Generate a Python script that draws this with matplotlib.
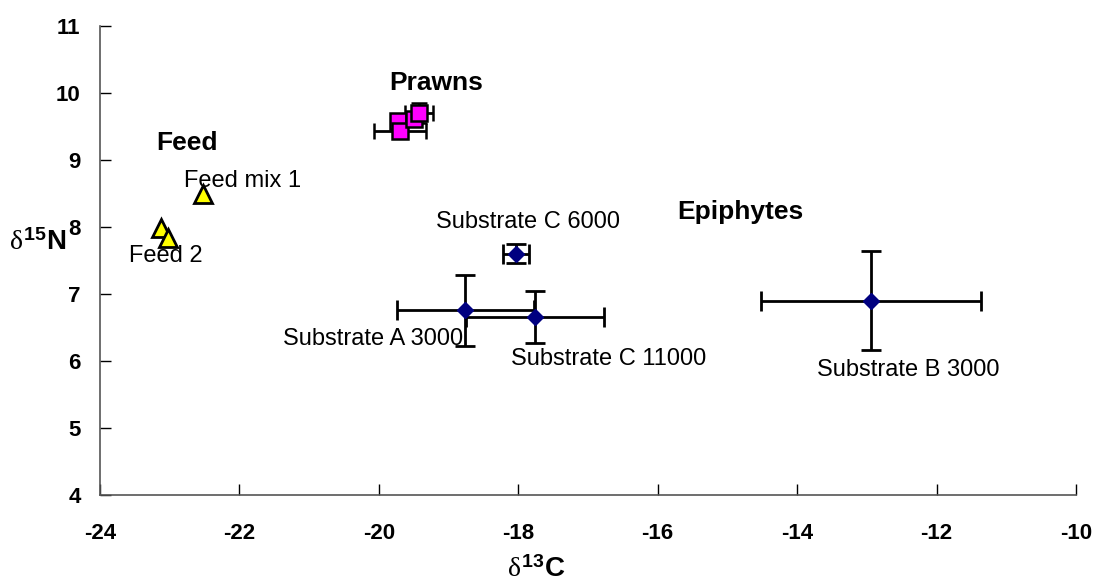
import matplotlib
matplotlib.use('Agg')
import matplotlib.pyplot as plt

plt.rcParams['font.family'] = ['Liberation Sans', 'DejaVu Sans']
plt.rcParams['axes.unicode_minus'] = False
plt.rcParams['mathtext.fontset'] = 'custom'
plt.rcParams['mathtext.rm'] = 'Liberation Serif'
plt.rcParams['mathtext.it'] = 'Liberation Serif'
plt.rcParams['mathtext.bf'] = 'Liberation Sans:bold'

# epiphytes (substrates)
sub_names = ['Substrate A 3000', 'Substrate C 11000', 'Substrate C 6000', 'Substrate B 3000']
sub_x = [-18.76, -17.76, -18.03, -12.94]
sub_y = [6.76, 6.66, 7.60, 6.90]
sub_xerr = [0.98, 0.99, 0.19, 1.58]
sub_yerr = [0.53, 0.39, 0.14, 0.74]

# prawns
prawn_x = [-19.72, -19.70, -19.49, -19.42]
prawn_y = [9.58, 9.43, 9.61, 9.70]
prawn_xerr = [0.05, 0.37, 0.05, 0.20]
prawn_yerr = [0.05, 0.05, 0.05, 0.15]

# feed
feed_x = [-22.52, -23.12, -23.02]
feed_y = [8.49, 7.99, 7.84]

fig = plt.figure(figsize=(10.95, 5.83), dpi=100)
ax = fig.add_axes([0.0913, 0.151, 0.8913, 0.8044])

ax.errorbar(prawn_x, prawn_y, xerr=prawn_xerr, yerr=prawn_yerr, fmt='s',
            color='black', ecolor='black', elinewidth=2, capsize=6, capthick=2,
            markerfacecolor='#FF00FF', markeredgecolor='black', markersize=12,
            markeredgewidth=1.8, zorder=3)
ax.errorbar(sub_x, sub_y, xerr=sub_xerr, yerr=sub_yerr, fmt='D',
            color='black', ecolor='black', elinewidth=2, capsize=7, capthick=2,
            markerfacecolor='#000080', markeredgecolor='#000080', markersize=8,
            zorder=3)
ax.plot(feed_x, feed_y, '^', markerfacecolor='#FFFF00', markeredgecolor='black',
        markersize=13, markeredgewidth=2, zorder=3)

ax.set_xlim(-24, -10)
ax.set_ylim(4, 11)
ax.set_xticks(range(-24, -9, 2))
ax.set_yticks(range(4, 12))
ax.tick_params(direction='in', length=8, width=1, colors='black')
ax.tick_params(axis='x', pad=20, labelsize=16)
ax.tick_params(axis='y', pad=14, labelsize=16)
for lab in ax.get_xticklabels() + ax.get_yticklabels():
    lab.set_fontweight('bold')
for s in ['top', 'right']:
    ax.spines[s].set_visible(False)
for s in ['left', 'bottom']:
    ax.spines[s].set_color('#555555')
    ax.spines[s].set_linewidth(1.2)

lab_fs = 17
ax.text(-20.08, 6.33, sub_names[0], fontsize=lab_fs, ha='center', va='center')
ax.text(-16.70, 6.03, sub_names[1], fontsize=lab_fs, ha='center', va='center')
ax.text(-17.86, 8.07, sub_names[2], fontsize=lab_fs, ha='center', va='center')
ax.text(-12.41, 5.87, sub_names[3], fontsize=lab_fs, ha='center', va='center')
ax.text(-21.95, 8.69, 'Feed mix 1', fontsize=lab_fs, ha='center', va='center')
ax.text(-23.05, 7.57, 'Feed 2', fontsize=lab_fs, ha='center', va='center')

grp_fs = 19
ax.text(-22.75, 9.25, 'Feed', fontsize=grp_fs, fontweight='bold', ha='center', va='center')
ax.text(-19.18, 10.15, 'Prawns', fontsize=grp_fs, fontweight='bold', ha='center', va='center')
ax.text(-14.82, 8.22, 'Epiphytes', fontsize=grp_fs, fontweight='bold', ha='center', va='center')

fig.text(0.034, 0.583, r'$\delta^{\mathbf{15}}\mathbf{N}$', fontsize=20, ha='center', va='center')
fig.text(0.49, 0.022, r'$\delta^{\mathbf{13}}\mathbf{C}$', fontsize=20, ha='center', va='center')

fig.savefig('out.png', dpi=100)
